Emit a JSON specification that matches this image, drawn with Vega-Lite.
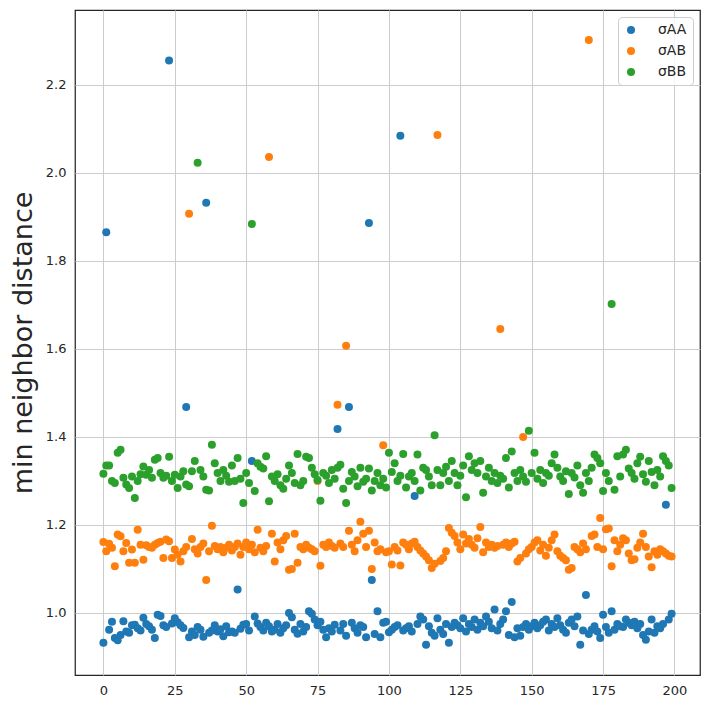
{
  "$schema": "https://vega.github.io/schema/vega-lite/v6.json",
  "width": 625,
  "height": 665,
  "autosize": "none",
  "padding": {"left": 75, "top": 10, "right": 10, "bottom": 34},
  "background": "white",
  "config": {
    "font": "DejaVu Sans",
    "view": {"stroke": "#262626", "strokeWidth": 1.25},
    "axis": {
      "domain": false,
      "ticks": false,
      "grid": true,
      "gridColor": "#cccccc",
      "gridWidth": 1,
      "labelFont": "DejaVu Sans",
      "labelFontSize": 13,
      "labelColor": "#262626",
      "labelPadding": 9
    },
    "legend": {
      "labelFont": "DejaVu Sans",
      "labelFontSize": 14,
      "labelColor": "#262626"
    }
  },
  "data": {
    "values": [
      {"i":0,"AA":0.932,"AB":1.161,"BB":1.316},{"i":1,"AA":1.865,"AB":1.140,"BB":1.335},{"i":2,"AA":0.962,"AB":1.157,"BB":1.335},{"i":3,"AA":0.980,"AB":1.148,"BB":1.300},{"i":4,"AA":0.943,"AB":1.106,"BB":1.295},
      {"i":5,"AA":0.938,"AB":1.178,"BB":1.364},{"i":6,"AA":0.950,"AB":1.174,"BB":1.371},{"i":7,"AA":0.981,"AB":1.140,"BB":1.307},{"i":8,"AA":0.958,"AB":1.159,"BB":1.292},{"i":9,"AA":0.955,"AB":1.114,"BB":1.284},
      {"i":10,"AA":0.972,"AB":1.144,"BB":1.310},{"i":11,"AA":0.973,"AB":1.114,"BB":1.261},{"i":12,"AA":0.965,"AB":1.189,"BB":1.300},{"i":13,"AA":0.960,"AB":1.155,"BB":1.315},{"i":14,"AA":0.989,"AB":1.121,"BB":1.333},
      {"i":15,"AA":0.975,"AB":1.154,"BB":1.314},{"i":16,"AA":0.970,"AB":1.150,"BB":1.325},{"i":17,"AA":0.962,"AB":1.148,"BB":1.307},{"i":18,"AA":0.943,"AB":1.155,"BB":1.348},{"i":19,"AA":0.996,"AB":1.159,"BB":1.352},
      {"i":20,"AA":0.993,"AB":1.162,"BB":1.318},{"i":21,"AA":0.972,"AB":1.125,"BB":1.307},{"i":22,"AA":0.968,"AB":1.167,"BB":1.312},{"i":23,"AA":2.255,"AB":1.163,"BB":1.355},{"i":24,"AA":0.976,"AB":1.125,"BB":1.300},
      {"i":25,"AA":0.988,"AB":1.144,"BB":1.314},{"i":26,"AA":0.979,"AB":1.132,"BB":1.284},{"i":27,"AA":0.972,"AB":1.117,"BB":1.310},{"i":28,"AA":0.966,"AB":1.140,"BB":1.322},{"i":29,"AA":1.468,"AB":1.150,"BB":1.292},
      {"i":30,"AA":0.945,"AB":1.907,"BB":1.288},{"i":31,"AA":0.958,"AB":1.168,"BB":1.322},{"i":32,"AA":0.950,"AB":1.145,"BB":1.345},{"i":33,"AA":0.968,"AB":1.135,"BB":2.023},{"i":34,"AA":0.962,"AB":1.150,"BB":1.325},
      {"i":35,"AA":0.946,"AB":1.158,"BB":1.310},{"i":36,"AA":1.932,"AB":1.075,"BB":1.280},{"i":37,"AA":0.955,"AB":1.140,"BB":1.278},{"i":38,"AA":0.960,"AB":1.198,"BB":1.382},{"i":39,"AA":0.972,"AB":1.152,"BB":1.340},
      {"i":40,"AA":0.958,"AB":1.145,"BB":1.318},{"i":41,"AA":0.963,"AB":1.150,"BB":1.300},{"i":42,"AA":0.947,"AB":1.138,"BB":1.325},{"i":43,"AA":0.970,"AB":1.148,"BB":1.312},{"i":44,"AA":0.956,"AB":1.155,"BB":1.298},
      {"i":45,"AA":0.958,"AB":1.142,"BB":1.335},{"i":46,"AA":0.955,"AB":1.150,"BB":1.300},{"i":47,"AA":1.053,"AB":1.158,"BB":1.352},{"i":48,"AA":0.964,"AB":1.132,"BB":1.305},{"i":49,"AA":0.973,"AB":1.150,"BB":1.250},
      {"i":50,"AA":0.975,"AB":1.160,"BB":1.318},{"i":51,"AA":0.960,"AB":1.145,"BB":1.295},{"i":52,"AA":1.345,"AB":1.155,"BB":1.884},{"i":53,"AA":0.992,"AB":1.138,"BB":1.277},{"i":54,"AA":0.976,"AB":1.189,"BB":1.340},
      {"i":55,"AA":0.968,"AB":1.148,"BB":1.332},{"i":56,"AA":0.960,"AB":1.140,"BB":1.328},{"i":57,"AA":0.978,"AB":1.152,"BB":1.356},{"i":58,"AA":0.970,"AB":2.036,"BB":1.254},{"i":59,"AA":0.958,"AB":1.180,"BB":1.310},
      {"i":60,"AA":0.962,"AB":1.117,"BB":1.300},{"i":61,"AA":0.975,"AB":1.160,"BB":1.315},{"i":62,"AA":0.955,"AB":1.145,"BB":1.290},{"i":63,"AA":0.965,"AB":1.165,"BB":1.282},{"i":64,"AA":0.972,"AB":1.175,"BB":1.305},
      {"i":65,"AA":1.000,"AB":1.098,"BB":1.335},{"i":66,"AA":0.990,"AB":1.100,"BB":1.318},{"i":67,"AA":0.962,"AB":1.180,"BB":1.295},{"i":68,"AA":0.953,"AB":1.114,"BB":1.361},{"i":69,"AA":0.975,"AB":1.150,"BB":1.290},
      {"i":70,"AA":0.958,"AB":1.145,"BB":1.300},{"i":71,"AA":0.968,"AB":1.155,"BB":1.355},{"i":72,"AA":1.004,"AB":1.148,"BB":1.352},{"i":73,"AA":0.998,"AB":1.145,"BB":1.330},{"i":74,"AA":0.985,"AB":1.140,"BB":1.315},
      {"i":75,"AA":0.972,"AB":1.300,"BB":1.302},{"i":76,"AA":0.980,"AB":1.107,"BB":1.255},{"i":77,"AA":0.962,"AB":1.155,"BB":1.318},{"i":78,"AA":0.945,"AB":1.150,"BB":1.312},{"i":79,"AA":0.965,"AB":1.160,"BB":1.295},
      {"i":80,"AA":0.958,"AB":1.152,"BB":1.325},{"i":81,"AA":0.973,"AB":1.148,"BB":1.305},{"i":82,"AA":1.418,"AB":1.473,"BB":1.330},{"i":83,"AA":0.960,"AB":1.158,"BB":1.337},{"i":84,"AA":0.975,"AB":1.150,"BB":1.282},
      {"i":85,"AA":0.948,"AB":1.607,"BB":1.250},{"i":86,"AA":1.468,"AB":1.187,"BB":1.300},{"i":87,"AA":0.978,"AB":1.155,"BB":1.320},{"i":88,"AA":0.965,"AB":1.140,"BB":1.310},{"i":89,"AA":0.955,"AB":1.165,"BB":1.288},
      {"i":90,"AA":0.972,"AB":1.207,"BB":1.330},{"i":91,"AA":0.968,"AB":1.180,"BB":1.298},{"i":92,"AA":0.945,"AB":1.150,"BB":1.305},{"i":93,"AA":1.886,"AB":1.187,"BB":1.328},{"i":94,"AA":1.075,"AB":1.100,"BB":1.278},
      {"i":95,"AA":0.952,"AB":1.160,"BB":1.300},{"i":96,"AA":1.004,"AB":1.140,"BB":1.318},{"i":97,"AA":0.945,"AB":1.145,"BB":1.290},{"i":98,"AA":0.978,"AB":1.381,"BB":1.305},{"i":99,"AA":0.980,"AB":1.138,"BB":1.285},
      {"i":100,"AA":0.956,"AB":1.140,"BB":1.364},{"i":101,"AA":0.962,"AB":1.110,"BB":1.320},{"i":102,"AA":0.968,"AB":1.150,"BB":1.340},{"i":103,"AA":0.972,"AB":1.142,"BB":1.300},{"i":104,"AA":2.084,"AB":1.108,"BB":1.312},
      {"i":105,"AA":0.960,"AB":1.160,"BB":1.361},{"i":106,"AA":0.965,"AB":1.155,"BB":1.285},{"i":107,"AA":0.970,"AB":1.145,"BB":1.310},{"i":108,"AA":0.958,"AB":1.158,"BB":1.318},{"i":109,"AA":1.266,"AB":1.162,"BB":1.300},
      {"i":110,"AA":0.975,"AB":1.150,"BB":1.360},{"i":111,"AA":0.992,"AB":1.142,"BB":1.278},{"i":112,"AA":0.985,"AB":1.135,"BB":1.330},{"i":113,"AA":0.928,"AB":1.128,"BB":1.325},{"i":114,"AA":0.970,"AB":1.120,"BB":1.310},
      {"i":115,"AA":0.955,"AB":1.102,"BB":1.290},{"i":116,"AA":0.948,"AB":1.112,"BB":1.404},{"i":117,"AA":0.988,"AB":2.086,"BB":1.325},{"i":118,"AA":0.962,"AB":1.118,"BB":1.290},{"i":119,"AA":0.952,"AB":1.125,"BB":1.318},
      {"i":120,"AA":0.975,"AB":1.140,"BB":1.332},{"i":121,"AA":0.932,"AB":1.193,"BB":1.300},{"i":122,"AA":0.968,"AB":1.182,"BB":1.345},{"i":123,"AA":0.978,"AB":1.175,"BB":1.318},{"i":124,"AA":0.972,"AB":1.160,"BB":1.290},
      {"i":125,"AA":0.965,"AB":1.145,"BB":1.312},{"i":126,"AA":0.988,"AB":1.178,"BB":1.335},{"i":127,"AA":0.958,"AB":1.158,"BB":1.263},{"i":128,"AA":0.975,"AB":1.168,"BB":1.356},{"i":129,"AA":0.968,"AB":1.155,"BB":1.325},
      {"i":130,"AA":0.985,"AB":1.148,"BB":1.340},{"i":131,"AA":0.962,"AB":1.170,"BB":1.318},{"i":132,"AA":0.978,"AB":1.195,"BB":1.345},{"i":133,"AA":0.970,"AB":1.138,"BB":1.273},{"i":134,"AA":0.992,"AB":1.160,"BB":1.310},
      {"i":135,"AA":0.980,"AB":1.150,"BB":1.330},{"i":136,"AA":0.965,"AB":1.155,"BB":1.300},{"i":137,"AA":1.008,"AB":1.148,"BB":1.318},{"i":138,"AA":0.960,"AB":1.152,"BB":1.295},{"i":139,"AA":0.975,"AB":1.645,"BB":1.312},
      {"i":140,"AA":0.985,"AB":1.155,"BB":1.305},{"i":141,"AA":1.004,"AB":1.160,"BB":1.352},{"i":142,"AA":0.950,"AB":1.150,"BB":1.285},{"i":143,"AA":1.025,"AB":1.158,"BB":1.367},{"i":144,"AA":0.945,"AB":1.162,"BB":1.318},
      {"i":145,"AA":0.965,"AB":1.117,"BB":1.300},{"i":146,"AA":0.948,"AB":1.125,"BB":1.325},{"i":147,"AA":0.968,"AB":1.400,"BB":1.310},{"i":148,"AA":0.975,"AB":1.135,"BB":1.298},{"i":149,"AA":0.962,"AB":1.145,"BB":1.414},
      {"i":150,"AA":0.970,"AB":1.150,"BB":1.318},{"i":151,"AA":0.978,"AB":1.160,"BB":1.364},{"i":152,"AA":0.965,"AB":1.165,"BB":1.305},{"i":153,"AA":0.972,"AB":1.142,"BB":1.325},{"i":154,"AA":0.980,"AB":1.155,"BB":1.295},
      {"i":155,"AA":0.985,"AB":1.130,"BB":1.318},{"i":156,"AA":0.960,"AB":1.148,"BB":1.312},{"i":157,"AA":0.975,"AB":1.165,"BB":1.340},{"i":158,"AA":0.968,"AB":1.178,"BB":1.360},{"i":159,"AA":0.988,"AB":1.140,"BB":1.330},
      {"i":160,"AA":0.972,"AB":1.130,"BB":1.310},{"i":161,"AA":0.962,"AB":1.125,"BB":1.300},{"i":162,"AA":0.955,"AB":1.120,"BB":1.322},{"i":163,"AA":0.978,"AB":1.098,"BB":1.270},{"i":164,"AA":0.985,"AB":1.102,"BB":1.318},
      {"i":165,"AA":0.970,"AB":1.150,"BB":1.308},{"i":166,"AA":0.992,"AB":1.145,"BB":1.335},{"i":167,"AA":0.928,"AB":1.138,"BB":1.290},{"i":168,"AA":0.960,"AB":1.158,"BB":1.273},{"i":169,"AA":1.041,"AB":1.145,"BB":1.318},
      {"i":170,"AA":0.952,"AB":2.302,"BB":1.300},{"i":171,"AA":0.962,"AB":1.175,"BB":1.330},{"i":172,"AA":0.970,"AB":1.178,"BB":1.360},{"i":173,"AA":0.958,"AB":1.150,"BB":1.352},{"i":174,"AA":0.943,"AB":1.216,"BB":1.340},
      {"i":175,"AA":0.996,"AB":1.145,"BB":1.277},{"i":176,"AA":0.968,"AB":1.190,"BB":1.318},{"i":177,"AA":0.955,"AB":1.192,"BB":1.300},{"i":178,"AA":1.004,"AB":1.106,"BB":1.702},{"i":179,"AA":0.962,"AB":1.165,"BB":1.280},
      {"i":180,"AA":0.975,"AB":1.140,"BB":1.356},{"i":181,"AA":0.970,"AB":1.155,"BB":1.310},{"i":182,"AA":0.968,"AB":1.170,"BB":1.360},{"i":183,"AA":0.985,"AB":1.165,"BB":1.371},{"i":184,"AA":0.978,"AB":1.135,"BB":1.328},
      {"i":185,"AA":0.972,"AB":1.120,"BB":1.318},{"i":186,"AA":0.980,"AB":1.122,"BB":1.305},{"i":187,"AA":0.965,"AB":1.148,"BB":1.340},{"i":188,"AA":0.975,"AB":1.160,"BB":1.355},{"i":189,"AA":0.950,"AB":1.180,"BB":1.315},
      {"i":190,"AA":0.939,"AB":1.150,"BB":1.298},{"i":191,"AA":0.958,"AB":1.128,"BB":1.345},{"i":192,"AA":0.985,"AB":1.104,"BB":1.320},{"i":193,"AA":0.955,"AB":1.140,"BB":1.290},{"i":194,"AA":0.970,"AB":1.132,"BB":1.325},
      {"i":195,"AA":0.965,"AB":1.145,"BB":1.310},{"i":196,"AA":0.975,"AB":1.140,"BB":1.356},{"i":197,"AA":1.246,"AB":1.135,"BB":1.345},{"i":198,"AA":0.985,"AB":1.130,"BB":1.335},{"i":199,"AA":0.998,"AB":1.128,"BB":1.284}
    ]
  },
  "transform": [
    {"fold": ["AA", "AB", "BB"], "as": ["pair", "distance"]}
  ],
  "mark": {"type": "point", "shape": "circle", "filled": true, "opacity": 1, "size": 64},
  "encoding": {
    "x": {
      "field": "i",
      "type": "quantitative",
      "scale": {"domain": [-9.95, 208.95], "nice": false, "zero": false},
      "axis": {"title": null, "values": [0, 25, 50, 75, 100, 125, 150, 175, 200]}
    },
    "y": {
      "field": "distance",
      "type": "quantitative",
      "scale": {"domain": [0.859, 2.37], "nice": false, "zero": false},
      "axis": {
        "title": "min neighbor distance",
        "titleFont": "DejaVu Sans",
        "titleFontSize": 27,
        "titleFontWeight": "normal",
        "titleColor": "#262626",
        "titlePadding": 8,
        "values": [1.0, 1.2, 1.4, 1.6, 1.8, 2.0, 2.2],
        "format": ".1f"
      }
    },
    "color": {
      "field": "pair",
      "type": "nominal",
      "scale": {"domain": ["AA", "AB", "BB"], "range": ["#1f77b4", "#ff7f0e", "#2ca02c"]},
      "legend": {
        "title": null,
        "orient": "top-right",
        "offset": 7,
        "labelExpr": "'σ' + datum.label",
        "symbolType": "circle",
        "symbolSize": 64,
        "symbolStrokeWidth": 0,
        "labelOffset": 20,
        "rowPadding": 7,
        "padding": 6,
        "fillColor": "rgba(255,255,255,0.8)",
        "strokeColor": "#cccccc",
        "cornerRadius": 4
      }
    },
    "order": {"field": "pair", "type": "nominal", "sort": "ascending"}
  }
}
